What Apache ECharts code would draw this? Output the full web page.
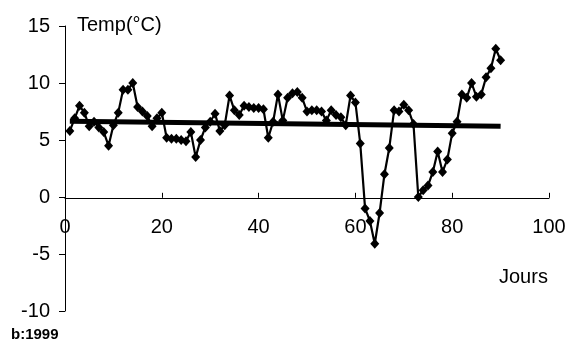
<!DOCTYPE html>
<html>
<head>
<meta charset="utf-8">
<script src="https://cdn.jsdelivr.net/npm/echarts@6/dist/echarts.min.js"></script>
<style>
html,body{margin:0;padding:0;background:#fff;}
#chart{width:584px;height:349px;}
</style>
</head>
<body>
<div id="chart"></div>
<script>
const days = [];
for (let d = 1; d <= 90; d++) days.push(d);
const temps = [
  5.8, 6.9, 8.0, 7.4, 6.2, 6.6, 6.1, 5.7, 4.5, 6.3,
  7.4, 9.4, 9.4, 10.0, 7.9, 7.5, 7.1, 6.2, 6.9, 7.4,
  5.2, 5.1, 5.1, 5.0, 4.9, 5.7, 3.5, 5.0, 6.1, 6.6,
  7.3, 5.8, 6.3, 8.9, 7.6, 7.2, 8.0, 7.9, 7.8, 7.8,
  7.7, 5.2, 6.6, 9.0, 6.7, 8.7, 9.1, 9.2, 8.7, 7.5,
  7.6, 7.6, 7.5, 6.7, 7.6, 7.2, 7.0, 6.3, 8.9, 8.3,
  4.7, -1.0, -2.1, -4.1, -1.4, 2.0, 4.3, 7.6, 7.5, 8.1,
  7.6, 6.4, 0.0, 0.6, 1.0, 2.2, 4.0, 2.2, 3.3, 5.6,
  6.6, 9.0, 8.7, 10.0, 8.8, 9.0, 10.5, 11.3, 13.0, 12.0
];
const trendX = [1, 90];
const trendY = [6.65, 6.2];
const xTicks = { min: 0, max: 100, interval: 20 };
const yTicks = { min: -10, max: 15, interval: 5 };

const FONT = "'Liberation Sans', Arial, sans-serif";
const chart = echarts.init(document.getElementById('chart'), null, { renderer: 'canvas' });
const option = {
  animation: false,
  backgroundColor: '#ffffff',
  grid: { left: 65, right: 35, top: 26, bottom: 38, containLabel: false },
  xAxis: {
    type: 'value', min: xTicks.min, max: xTicks.max, interval: xTicks.interval,
    offset: 0,
    axisLine: { onZero: false, lineStyle: { color: '#000', width: 1 } },
    axisTick: { show: true, inside: true, length: 5, lineStyle: { color: '#000' } },
    axisLabel: { color: '#000', fontSize: 20, fontFamily: FONT, margin: 20, showMinLabel: true, showMaxLabel: true },
    splitLine: { show: false }
  },
  yAxis: {
    type: 'value', min: yTicks.min, max: yTicks.max, interval: yTicks.interval,
    axisLine: { show: true, onZero: false, lineStyle: { color: '#000', width: 1 } },
    axisTick: { show: true, inside: false, length: 6, lineStyle: { color: '#000' } },
    axisLabel: { color: '#000', fontSize: 20, fontFamily: FONT, margin: 15 },
    splitLine: { show: false }
  },
  series: [
    {
      type: 'line',
      data: days.map((d, i) => [d, temps[i]]),
      symbol: 'diamond', symbolSize: [9, 10],
      itemStyle: { color: '#000' },
      lineStyle: { color: '#000', width: 2.2 },
      z: 2
    },
    {
      type: 'line',
      data: trendX.map((d, i) => [d, trendY[i]]),
      symbol: 'none',
      lineStyle: { color: '#000', width: 5 },
      z: 3
    }
  ],
  graphic: [
    { type: 'text', style: { x: 77, y: 25, text: 'Temp(°C)', font: '20px ' + FONT, fill: '#000', verticalAlign: 'middle' } },
    { type: 'text', style: { x: 499, y: 277, text: 'Jours', font: '20px ' + FONT, fill: '#000', verticalAlign: 'middle' } },
    { type: 'text', style: { x: 11, y: 335, text: 'b:1999', font: 'bold 15px ' + FONT, fill: '#000', verticalAlign: 'middle' } }
  ]
};
chart.setOption(option);
// place the x axis on y = 0 using the library's own y scale
const yZero = chart.convertToPixel({ yAxisIndex: 0 }, 0);
const yMin = chart.convertToPixel({ yAxisIndex: 0 }, yTicks.min);
chart.setOption({ xAxis: { offset: -(yMin - yZero) } });
</script>
</body>
</html>
